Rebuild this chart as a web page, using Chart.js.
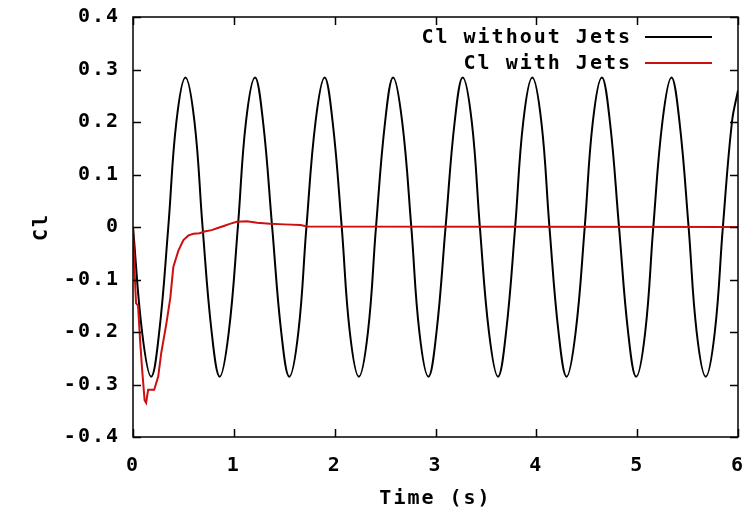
<!DOCTYPE html>
<html>
<head>
<meta charset="utf-8">
<title>Cl with and without jets</title>
<script src="https://cdn.jsdelivr.net/npm/chart.js@4.4.1/dist/chart.umd.min.js"></script>
<style>
  html, body { margin: 0; padding: 0; background: #fff; }
  canvas { display: block; }
</style>
</head>
<body>
<canvas id="clChart" width="753" height="514"></canvas>
<script>
// --- Data ---
// Cl without jets: steady vortex shedding oscillation
const timeNoJets = [
  0.00, 0.09, 0.18, 0.26, 0.35, 0.43, 0.52, 0.61, 0.69, 0.78,
  0.86, 0.95, 1.04, 1.12, 1.21, 1.29, 1.38, 1.47, 1.55, 1.64,
  1.72, 1.81, 1.90, 1.98, 2.07, 2.15, 2.24, 2.33, 2.41, 2.50,
  2.58, 2.67, 2.76, 2.84, 2.93, 3.01, 3.10, 3.19, 3.27, 3.36,
  3.44, 3.53, 3.62, 3.70, 3.79, 3.87, 3.96, 4.05, 4.13, 4.22,
  4.30, 4.39, 4.48, 4.56, 4.65, 4.73, 4.82, 4.91, 4.99, 5.08,
  5.16, 5.25, 5.34, 5.42, 5.51, 5.59, 5.68, 5.77, 5.85, 5.94,
  6.00
];
const clNoJets = [
  0, -0.2, -0.285, -0.2, 0, 0.2, 0.285, 0.2, 0, -0.2,
  -0.285, -0.2, 0, 0.2, 0.285, 0.2, 0, -0.2, -0.285, -0.2,
  0, 0.2, 0.285, 0.2, 0, -0.2, -0.285, -0.2, 0, 0.2,
  0.285, 0.2, 0, -0.2, -0.285, -0.2, 0, 0.2, 0.285, 0.2,
  0, -0.2, -0.285, -0.2, 0, 0.2, 0.285, 0.2, 0, -0.2,
  -0.285, -0.2, 0, 0.2, 0.285, 0.2, 0, -0.2, -0.285, -0.2,
  0, 0.2, 0.285, 0.2, 0, -0.2, -0.285, -0.2, 0, 0.2,
  0.26
];

// Cl with jets: initial dip then settles to zero
const timeJets = [
  0, 0.01, 0.03, 0.05, 0.07, 0.09, 0.115, 0.13, 0.15, 0.21,
  0.25, 0.28, 0.33, 0.37, 0.40, 0.45, 0.50, 0.55, 0.60, 0.66,
  0.72, 0.78, 0.84, 0.90, 0.96, 1.03, 1.13, 1.23, 1.36, 1.50,
  1.66, 1.73, 6.00
];
const clJets = [
  0, -0.06, -0.145, -0.15, -0.215, -0.27, -0.33, -0.335, -0.31, -0.31,
  -0.285, -0.24, -0.185, -0.135, -0.076, -0.045, -0.025, -0.016, -0.013, -0.012,
  -0.008, -0.006, -0.002, 0.002, 0.006, 0.01, 0.011, 0.008, 0.006, 0.005,
  0.004, 0.001, 0
];

const xTicks = [0, 1, 2, 3, 4, 5, 6];
const yTicks = [-0.4, -0.3, -0.2, -0.1, 0, 0.1, 0.2, 0.3, 0.4];
const seriesLabels = ['Cl without Jets', 'Cl with Jets'];
const seriesColors = ['#000000', '#cc1010'];

const FONT = { family: "'DejaVu Sans Mono', monospace", size: 20, weight: 'bold' };
const SPACING = '2px'; // the gnuplot font is wider than DejaVu Mono

function toPoints(xs, ys) {
  return xs.map((x, i) => ({ x: x, y: ys[i] }));
}

// widen all text a little, before measuring and before drawing
const spacingPlugin = {
  id: 'spacing',
  beforeUpdate(chart) { chart.ctx.letterSpacing = SPACING; },
  beforeDraw(chart) { chart.ctx.letterSpacing = SPACING; }
};

// --- gnuplot style frame with inward ticks on all four sides ---
const framePlugin = {
  id: 'frame',
  afterDatasetsDraw(chart) {
    const { ctx, chartArea: a, scales } = chart;
    const len = 8;
    ctx.save();
    ctx.strokeStyle = '#000';
    ctx.lineWidth = 1.5;
    ctx.strokeRect(a.left, a.top, a.right - a.left, a.bottom - a.top);
    ctx.beginPath();
    xTicks.forEach(v => {
      const px = Math.round(scales.x.getPixelForValue(v)) + 0.5;
      ctx.moveTo(px, a.bottom); ctx.lineTo(px, a.bottom - len);
      ctx.moveTo(px, a.top); ctx.lineTo(px, a.top + len);
    });
    yTicks.forEach(v => {
      const py = Math.round(scales.y.getPixelForValue(v)) + 0.5;
      ctx.moveTo(a.left, py); ctx.lineTo(a.left + len, py);
      ctx.moveTo(a.right, py); ctx.lineTo(a.right - len, py);
    });
    ctx.stroke();
    ctx.restore();
  }
};

// --- legend inside the plot: right aligned text, sample line on the right ---
const keyPlugin = {
  id: 'key',
  afterDraw(chart) {
    const { ctx } = chart;
    const textRight = 632, lineFrom = 645, lineTo = 712;
    const rows = [38, 64];
    ctx.save();
    ctx.letterSpacing = SPACING;
    ctx.font = 'bold 20px ' + FONT.family;
    ctx.textAlign = 'right';
    ctx.textBaseline = 'middle';
    seriesLabels.forEach((lbl, i) => {
      ctx.fillStyle = '#000';
      ctx.fillText(lbl, textRight, rows[i]);
      ctx.strokeStyle = seriesColors[i];
      ctx.lineWidth = 2;
      ctx.beginPath();
      ctx.moveTo(lineFrom, rows[i] - 1);
      ctx.lineTo(lineTo, rows[i] - 1);
      ctx.stroke();
    });
    ctx.restore();
  }
};

new Chart(document.getElementById('clChart').getContext('2d'), {
  type: 'line',
  data: {
    datasets: [
      {
        label: seriesLabels[0],
        data: toPoints(timeNoJets, clNoJets),
        borderColor: seriesColors[0],
        borderWidth: 2,
        pointRadius: 0,
        tension: 0.4,
        order: 2
      },
      {
        label: seriesLabels[1],
        data: toPoints(timeJets, clJets),
        borderColor: seriesColors[1],
        borderWidth: 2,
        pointRadius: 0,
        tension: 0,
        order: 1
      }
    ]
  },
  options: {
    responsive: false,
    animation: false,
    layout: { padding: { top: 17, right: 15, left: 0, bottom: 0 } },
    plugins: {
      legend: { display: false },
      tooltip: { enabled: false }
    },
    scales: {
      x: {
        type: 'linear',
        min: 0,
        max: 6,
        afterFit(scale) {
          scale.height = 77;
          scale.paddingLeft = 0;
          scale.paddingRight = 0;
        },
        afterBuildTicks(scale) { scale.ticks = xTicks.map(v => ({ value: v })); },
        grid: { display: false, drawTicks: false },
        border: { display: false },
        ticks: { color: '#000', font: FONT, padding: 17, maxRotation: 0 },
        title: { display: true, text: 'Time (s)', color: '#000', font: FONT, padding: { top: 0, bottom: 3 } }
      },
      y: {
        type: 'linear',
        min: -0.4,
        max: 0.4,
        afterFit(scale) {
          scale.width = 133;
          scale.paddingTop = 0;
          scale.paddingBottom = 0;
        },
        afterBuildTicks(scale) { scale.ticks = yTicks.map(v => ({ value: v })); },
        grid: { display: false, drawTicks: false },
        border: { display: false },
        ticks: {
          color: '#000',
          font: FONT,
          padding: 13,
          callback: v => Math.abs(v) < 1e-9 ? '0' : v.toFixed(1)
        },
        title: { display: true, text: 'Cl', color: '#000', font: FONT, padding: { top: 30, bottom: 0 } }
      }
    }
  },
  plugins: [spacingPlugin, framePlugin, keyPlugin]
});
</script>
</body>
</html>
